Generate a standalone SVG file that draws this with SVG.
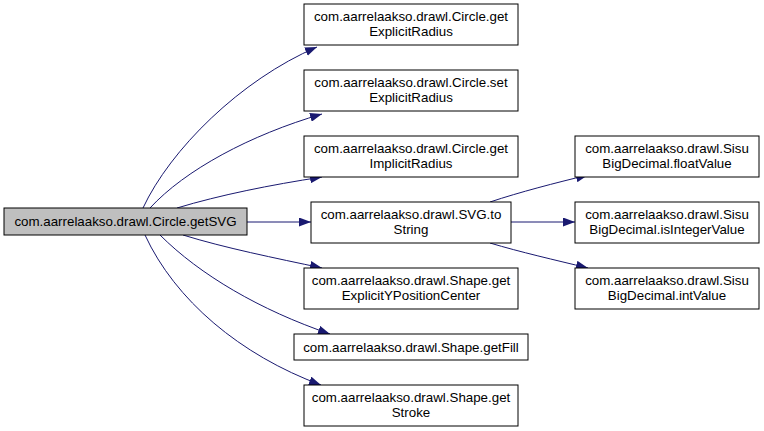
<svg xmlns="http://www.w3.org/2000/svg" width="764" height="431" viewBox="0 0 764 431">
<style>
  .node rect { fill: #ffffff; stroke: #000000; stroke-width: 1; }
  .node.root rect { fill: #bfbfbf; }
  .node text { font-family: "Liberation Sans", Arial, Helvetica, sans-serif; font-size: 13.33px; fill: #000000; text-anchor: middle; }
  .edges path { fill: none; stroke: #191970; stroke-width: 1; }
</style>
<defs>
  <marker id="arrow" viewBox="0 0 12 9" refX="12" refY="4.5" markerWidth="12" markerHeight="9" markerUnits="userSpaceOnUse" orient="auto">
    <path d="M0,0 L12,4.5 L0,9 z" fill="#191970"/>
  </marker>
</defs>
<rect x="0" y="0" width="764" height="431" fill="#ffffff"/>
<g id="edges" class="edges">
  <path d="M143,208 C170,150 240,80 317,47" marker-end="url(#arrow)"/>
  <path d="M150,208 C185,170 250,135 322,114" marker-end="url(#arrow)"/>
  <path d="M177,208 C220,195 270,185 322,177" marker-end="url(#arrow)"/>
  <path d="M247,222 L311,222" marker-end="url(#arrow)"/>
  <path d="M183,235 C225,248 275,258 322,268" marker-end="url(#arrow)"/>
  <path d="M160,235 C200,275 260,310 330,334" marker-end="url(#arrow)"/>
  <path d="M145,235 C175,300 240,355 321,385" marker-end="url(#arrow)"/>
  <path d="M490,202 C520,192 555,183 588,175" marker-end="url(#arrow)"/>
  <path d="M511,222 L575,222" marker-end="url(#arrow)"/>
  <path d="M490,243 C520,252 555,260 588,268" marker-end="url(#arrow)"/>
</g>
<g id="node-root" class="node root">
  <rect x="4" y="208" width="243" height="27"/>
  <text x="125.5" y="226">com.aarrelaakso.drawl.Circle.getSVG</text>
</g>
<g id="node-getExplicitRadius" class="node">
  <rect x="304" y="4" width="214" height="41"/>
  <text x="411" y="21">com.aarrelaakso.drawl.Circle.get</text>
  <text x="411" y="36">ExplicitRadius</text>
</g>
<g id="node-setExplicitRadius" class="node">
  <rect x="304" y="70" width="214" height="41"/>
  <text x="411" y="87">com.aarrelaakso.drawl.Circle.set</text>
  <text x="411" y="102">ExplicitRadius</text>
</g>
<g id="node-getImplicitRadius" class="node">
  <rect x="304" y="136" width="214" height="41"/>
  <text x="411" y="153">com.aarrelaakso.drawl.Circle.get</text>
  <text x="411" y="168">ImplicitRadius</text>
</g>
<g id="node-toString" class="node">
  <rect x="311" y="202" width="200" height="41"/>
  <text x="411" y="219">com.aarrelaakso.drawl.SVG.to</text>
  <text x="411" y="234">String</text>
</g>
<g id="node-getExplicitYPositionCenter" class="node">
  <rect x="304" y="268" width="214" height="41"/>
  <text x="411" y="285">com.aarrelaakso.drawl.Shape.get</text>
  <text x="411" y="300">ExplicitYPositionCenter</text>
</g>
<g id="node-getFill" class="node">
  <rect x="294" y="334" width="234" height="26"/>
  <text x="411" y="351.5">com.aarrelaakso.drawl.Shape.getFill</text>
</g>
<g id="node-getStroke" class="node">
  <rect x="304" y="385" width="214" height="41"/>
  <text x="411" y="402">com.aarrelaakso.drawl.Shape.get</text>
  <text x="411" y="417">Stroke</text>
</g>
<g id="node-floatValue" class="node">
  <rect x="575" y="136" width="184" height="41"/>
  <text x="667" y="153">com.aarrelaakso.drawl.Sisu</text>
  <text x="667" y="168">BigDecimal.floatValue</text>
</g>
<g id="node-isIntegerValue" class="node">
  <rect x="575" y="202" width="184" height="41"/>
  <text x="667" y="219">com.aarrelaakso.drawl.Sisu</text>
  <text x="667" y="234">BigDecimal.isIntegerValue</text>
</g>
<g id="node-intValue" class="node">
  <rect x="575" y="268" width="184" height="41"/>
  <text x="667" y="285">com.aarrelaakso.drawl.Sisu</text>
  <text x="667" y="300">BigDecimal.intValue</text>
</g>
</svg>
